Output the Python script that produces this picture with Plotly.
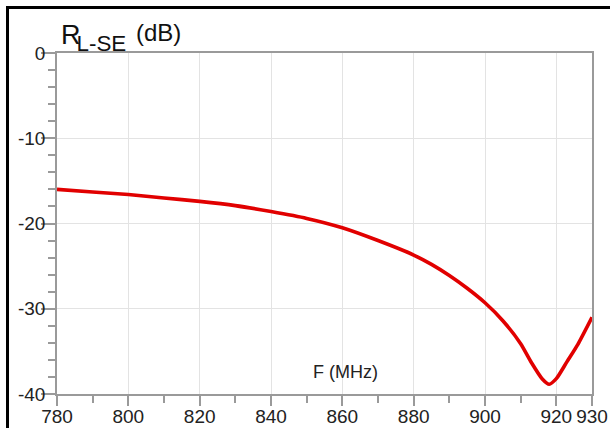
import plotly.graph_objects as go

freq_mhz = [780, 790, 800, 810, 820, 830, 840, 850, 860, 870, 880, 885, 890, 895,
            900, 905, 910, 913, 916, 918, 920, 923, 926, 930]
rl_se_db = [-16.0, -16.3, -16.6, -17.0, -17.4, -17.9, -18.6, -19.4, -20.5, -22.0,
            -23.7, -24.8, -26.1, -27.6, -29.3, -31.4, -34.1, -36.3, -38.2, -38.85,
            -38.2, -36.2, -34.2, -31.0]

x_tickvals = [780, 800, 820, 840, 860, 880, 900, 920, 930]
x_ticktext = ["780", "800", "820", "840", "860", "880", "900", "920", "930"]
x_minor_vals = [790, 810, 830, 850, 870, 890, 910]
y_tickvals = [0, -10, -20, -30, -40]
y_ticktext = ["0", "-10", "-20", "-30", "-40"]

W, H = 610, 428
L, R, T, B = 57, 18, 53, 34
pw, ph = W - L - R, H - T - B


def px_x(px):
    return (px - L) / pw


def px_y(py):
    return (H - B - py) / ph


fig = go.Figure()
fig.add_trace(go.Scatter(
    x=freq_mhz, y=rl_se_db, mode="lines",
    line=dict(color="#e10000", width=3.6, shape="spline", smoothing=0.6),
    hoverinfo="skip", showlegend=False,
))

font_family = "Liberation Sans, Arial, sans-serif"
axis_gray = "#9a9a9a"

fig.update_layout(
    width=W, height=H,
    margin=dict(l=L, r=R, t=T, b=B, pad=0, autoexpand=False),
    paper_bgcolor="white", plot_bgcolor="white",
    font=dict(family=font_family, color="#222222", size=19),
    xaxis=dict(
        range=[780, 930], tickvals=x_tickvals, ticktext=x_ticktext,
        showgrid=True, gridcolor="#e3e3e3", gridwidth=1,
        showline=True, linecolor=axis_gray, linewidth=1.5, mirror=True,
        ticks="outside", ticklen=10, tickcolor=axis_gray, tickwidth=1.5,
        minor=dict(tickvals=x_minor_vals, ticks="outside",
                   ticklen=7, tickcolor=axis_gray, tickwidth=1.5, showgrid=False),
        tickfont=dict(size=19, color="#222222"),
        ticklabelstandoff=-6,
        zeroline=False, fixedrange=True, automargin=False,
    ),
    yaxis=dict(
        range=[-40, 0], tickvals=y_tickvals, ticktext=y_ticktext,
        showgrid=True, gridcolor="#e3e3e3", gridwidth=1,
        showline=True, linecolor=axis_gray, linewidth=1.5, mirror=True,
        ticks="outside", ticklen=14, tickcolor=axis_gray, tickwidth=1.5,
        minor=dict(dtick=2, ticks="outside", ticklen=7, tickcolor=axis_gray,
                   tickwidth=1.5, showgrid=False),
        tickfont=dict(size=19, color="#222222"),
        ticklabelstandoff=-8,
        zeroline=False, fixedrange=True, automargin=False,
    ),
    shapes=[dict(
        type="rect", xref="paper", yref="paper",
        x0=px_x(7.5), x1=px_x(640), y0=px_y(7.5), y1=px_y(460),
        line=dict(color="black", width=3), fillcolor="rgba(0,0,0,0)", layer="above",
    )],
    annotations=[
        dict(text=("<span style='font-size:27px;letter-spacing:-4px'>R</span>"
                   "<sub>L-SE</sub>"),
             xref="paper", yref="paper", x=px_x(59), y=px_y(38),
             xanchor="left", yanchor="middle", showarrow=False,
             font=dict(size=32, color="#111111", family=font_family)),
        dict(text="(dB)", xref="paper", yref="paper", x=px_x(134), y=px_y(32),
             xanchor="left", yanchor="middle", showarrow=False,
             font=dict(size=24, color="#111111", family=font_family)),
        dict(text="F (MHz)", xref="paper", yref="paper", x=px_x(345), y=px_y(372),
             xanchor="center", yanchor="middle", showarrow=False,
             font=dict(size=18, color="#222222", family=font_family)),
    ],
)

fig.write_html("out.html", config={"displayModeBar": False},
               post_script="document.body.style.margin='0';")
